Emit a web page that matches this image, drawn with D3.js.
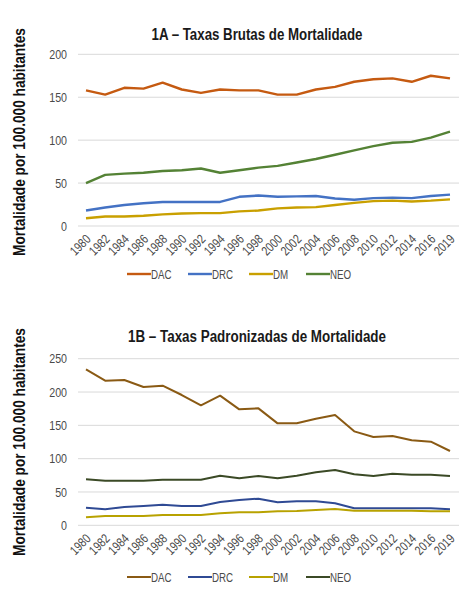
<!DOCTYPE html>
<html>
<head>
<meta charset="utf-8">
<script src="https://cdn.jsdelivr.net/npm/d3@7"></script>
<style>
body { margin:0; background:#fff; }
text { font-family:"Liberation Sans",Arial,sans-serif; }
</style>
</head>
<body>
<svg width="474" height="603"></svg>
<script>

// categorias do eixo x
var years = ['1980','1982','1984','1986','1988','1990','1992','1994','1996','1998',
 '2000','2002','2004','2006','2008','2010','2012','2014','2016','2019'];

var seriesNames = ['DAC','DRC','DM','NEO'];

// 1A - taxas brutas
var brutaDAC = [158,153,161,160,167,159,155,159,158,158,153,153,159,162,168,171,172,168,175,172];
var brutaDRC = [18,21.5,24.5,26.5,28,28,28,28,34,35.5,34,34.5,35,32,30.5,32.5,33,32.5,35,36.5];
var brutaDM  = [9,11,11,12,13.5,14.5,15,15,17,18,20.5,21.5,22,24.5,27,29,29.5,28.5,29.5,31];
var brutaNEO = [50,59.5,61,62,64,65,67,62,65,68,70,74,78,83,88,93,97,98,103,110];

// 1B - taxas padronizadas
var padDAC = [234,217,218,207.5,209.5,195.5,180,194.5,174,175.5,153,153,160,165.5,141,132.5,134,127.5,125.5,111.5];
var padDRC = [26.5,24,27.5,29,31,29,29,35,38,40,34.5,36,36,33,25.5,25.5,25.5,25.5,25.5,24];
var padDM  = [12,14,14,14,15.5,15.5,15.5,18,19.5,19.5,21,21.5,23,24.5,22,22,22,22,21,21];
var padNEO = [69,67,67,67,68.5,68.5,68.5,74.5,70.5,74,70.5,74.5,79.5,83,76.5,74,77.5,76,76,74];

var ticksA = [0,50,100,150,200];
var ticksB = [0,50,100,150,200,250];

var svg = d3.select("svg");

// aperta o texto (fonte estreita nao instalada)
function narrow(sel, k){
    sel.each(function(){
        var w = this.getComputedTextLength();
        d3.select(this).attr("textLength", w * k).attr("lengthAdjust", "spacingAndGlyphs");
    });
}

function drawPanel(opt){

    var g = svg.append("g");

    var x = d3.scalePoint().domain(years).range([86, 450]);
    var y = d3.scaleLinear().domain([0, opt.max]).range([opt.bottom, opt.top]);

    // grade
    g.selectAll(".grid")
        .data(opt.ticks)
      .enter().append("line")
        .attr("x1", 78)
        .attr("x2", 459)
        .attr("y1", function(d){ return y(d); })
        .attr("y2", function(d){ return y(d); })
        .style("stroke", "#d9d9d9")
        .style("stroke-width", 1);

    var yAxis = g.append("g")
        .attr("transform", "translate(67,0)")
        .call(d3.axisLeft(y).tickValues(opt.ticks).tickSize(0).tickPadding(0));
    yAxis.select(".domain").remove();
    yAxis.selectAll("text")
        .style("font-size", "13px")
        .style("fill", "#4a4a4a")
        .call(narrow, 0.82);

    var xAxis = g.append("g")
        .attr("transform", "translate(0," + opt.bottom + ")")
        .call(d3.axisBottom(x).tickSize(0));
    xAxis.select(".domain").remove();
    xAxis.selectAll("text")
        .attr("x", 0).attr("y", 0).attr("dy", 0)
        .attr("transform", "translate(5,14) rotate(-45)")
        .style("text-anchor", "end")
        .style("font-size", "13px")
        .style("fill", "#4a4a4a")
        .call(narrow, 0.8);

    var line = d3.line()
        .x(function(d, i){ return x(years[i]); })
        .y(function(d){ return y(d); });

    opt.data.forEach(function(s, k){
        g.append("path")
            .datum(s)
            .attr("d", line)
            .style("fill", "none")
            .style("stroke", opt.colors[k])
            .style("stroke-width", opt.width)
            .style("stroke-linejoin", "round");
    });

    g.append("text")
        .attr("x", 257)
        .attr("y", opt.titleY)
        .attr("text-anchor", "middle")
        .attr("textLength", opt.titleW)
        .attr("lengthAdjust", "spacingAndGlyphs")
        .style("font-size", "16px")
        .style("font-weight", "bold")
        .style("fill", "#1a1a1a")
        .text(opt.title);

    // rotulo do eixo y, comprimido com scale
    var lab = g.append("text")
        .attr("text-anchor", "middle")
        .style("font-size", "16.5px")
        .style("font-weight", "bold")
        .style("fill", "#111")
        .text("Mortalidade por 100.000 habitantes");
    var sx = 228 / lab.node().getComputedTextLength();
    lab.attr("transform", "translate(25," + opt.labelY + ") rotate(-90) scale(" + sx + ",1)");

    // legenda
    var legX = [127, 188, 249, 306];
    var leg = g.selectAll(".leg")
        .data(seriesNames)
      .enter().append("g")
        .attr("transform", function(d, i){ return "translate(" + legX[i] + "," + opt.legendY + ")"; });
    leg.append("line")
        .attr("x1", 0).attr("x2", 24)
        .style("stroke", function(d, i){ return opt.colors[i]; })
        .style("stroke-width", opt.width);
    leg.append("text")
        .attr("x", 24)
        .attr("dy", "0.36em")
        .style("font-size", "12.5px")
        .style("fill", "#4a4a4a")
        .text(function(d){ return d; })
        .call(narrow, 0.78);
}

drawPanel({
    title: "1A \u2013 Taxas Brutas de Mortalidade",
    titleW: 211,
    data: [brutaDAC, brutaDRC, brutaDM, brutaNEO],
    colors: ["#c55a11", "#4472c4", "#c9a000", "#548235"],
    ticks: ticksA, max: 200,
    top: 54.3, bottom: 226,
    titleY: 40, labelY: 142, legendY: 274, width: 2.4
});

drawPanel({
    title: "1B \u2013 Taxas Padronizadas de Mortalidade",
    titleW: 258,
    data: [padDAC, padDRC, padDM, padNEO],
    colors: ["#8a5a14", "#2f4a94", "#b8a200", "#3b4a26"],
    ticks: ticksB, max: 250,
    top: 358.7, bottom: 525.3,
    titleY: 341.5, labelY: 442, legendY: 577, width: 2
});

</script>
</body>
</html>
